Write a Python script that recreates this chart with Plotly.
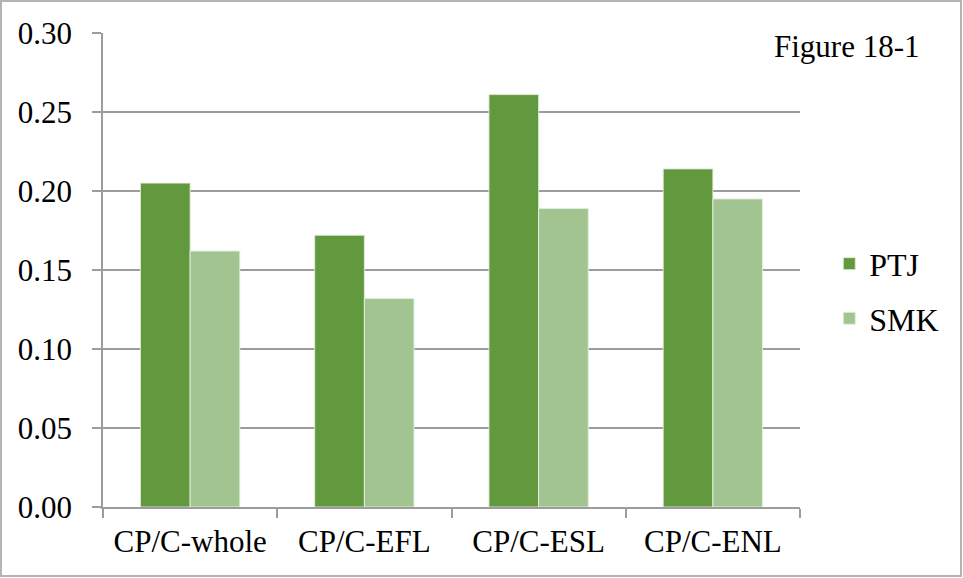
import plotly.graph_objects as go

categories = ["CP/C-whole", "CP/C-EFL", "CP/C-ESL", "CP/C-ENL"]
ptj = [0.205, 0.172, 0.261, 0.214]
smk = [0.162, 0.132, 0.189, 0.195]
y_ticks = [0.00, 0.05, 0.10, 0.15, 0.20, 0.25, 0.30]

FONT = "Liberation Serif, Times New Roman, serif"
GRID = "#9c9c9c"

fig = go.Figure()
fig.add_trace(go.Bar(
    x=categories, y=ptj, name="PTJ", legendgroup="a",
    marker=dict(color="#62993e", line=dict(color="rgba(225,235,215,0.9)", width=1)),
))
fig.add_trace(go.Bar(
    x=categories, y=smk, name="SMK", legendgroup="b",
    marker=dict(color="#a2c490", line=dict(color="rgba(230,240,225,0.9)", width=1)),
))

fig.update_layout(
    width=963, height=578,
    margin=dict(l=103, r=163, t=33, b=71),
    paper_bgcolor="white", plot_bgcolor="white",
    barmode="group", bargap=0.43, bargroupgap=0,
    font=dict(family=FONT, size=31, color="black"),
    showlegend=True,
    legend=dict(
        x=1.042, y=0.455, xanchor="left", yanchor="middle",
        font=dict(family=FONT, size=32, color="black"),
        traceorder="grouped", tracegroupgap=10,
        itemwidth=30, bgcolor="rgba(0,0,0,0)",
    ),
    xaxis=dict(
        type="category", showgrid=False,
        showline=True, linecolor=GRID, linewidth=1.5,
        ticks="outside", tickson="boundaries", ticklen=9,
        tickcolor=GRID, tickwidth=1.5,
        ticklabelstandoff=6,
        tickfont=dict(family=FONT, size=31),
    ),
    yaxis=dict(
        range=[0, 0.30], tickvals=y_ticks,
        ticktext=[f"{v:.2f}" for v in y_ticks],
        showgrid=True, gridcolor=GRID, gridwidth=1.5,
        showline=True, linecolor=GRID, linewidth=1.5,
        ticks="outside", ticklen=9, tickcolor=GRID, tickwidth=1.5,
        ticklabelstandoff=14,
        zeroline=False,
        tickfont=dict(family=FONT, size=31),
    ),
)

# Caption placed in pixel terms converted to paper coordinates
pw, ph = 963 - 103 - 163, 578 - 33 - 71
fig.add_annotation(
    text="Figure 18-1", xref="paper", yref="paper",
    x=(847 - 103) / pw, y=(507 - 46) / ph, xanchor="center", yanchor="middle",
    showarrow=False, font=dict(family=FONT, size=31),
)

# Thin grey frame around the whole figure
fig.add_shape(
    type="rect", xref="paper", yref="paper",
    x0=(1 - 103) / pw, x1=(961 - 103) / pw,
    y0=(507 - 576) / ph, y1=(507 - 1) / ph,
    line=dict(color="#b4b4b4", width=2), fillcolor="rgba(0,0,0,0)",
)

fig.write_html("out.html")
